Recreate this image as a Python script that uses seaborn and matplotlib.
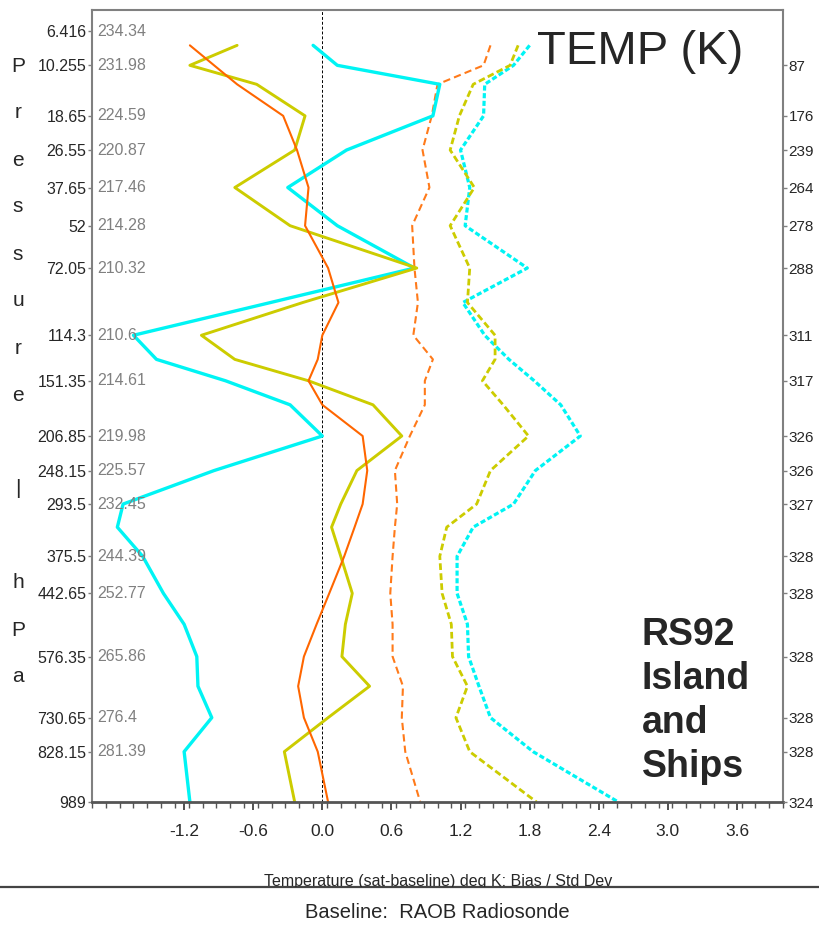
import numpy as np
import pandas as pd
import matplotlib
matplotlib.use("Agg")
import matplotlib.pyplot as plt
import seaborn as sns
from matplotlib.lines import Line2D
from matplotlib.ticker import NullLocator
from matplotlib.transforms import Bbox, TransformedBbox

# ---------------------------------------------------------------- data
# pressure levels (hPa) at which the profiles are given
levels = [7.84, 10.255, 13.0, 18.65, 26.55, 37.65, 52, 72.05, 92, 114.3, 133,
          151.35, 174, 206.85, 248.15, 293.5, 328, 375.5, 442.65, 505, 576.35,
          648, 730.65, 828.15, 989]

# bias (solid) and standard deviation (dashed), sat - baseline, K
cyan_bias = [-0.08, 0.13, 1.02, 0.96, 0.21, -0.30, 0.13, 0.80, -0.45, -1.64, -1.44,
             -0.84, -0.28, 0.00, -0.94, -1.73, -1.78, -1.56, -1.38, -1.20, -1.09,
             -1.08, -0.96, -1.20, -1.15]
yellow_bias = [-0.74, -1.15, -0.57, -0.15, -0.24, -0.76, -0.28, 0.82, -0.17, -1.05,
               -0.76, -0.12, 0.44, 0.69, 0.30, 0.16, 0.08, 0.16, 0.26, 0.20, 0.17,
               0.41, 0.05, -0.33, -0.24]
orange_bias = [-1.15, -0.94, -0.74, -0.34, -0.22, -0.12, -0.15, 0.05, 0.14, 0.00,
               -0.04, -0.12, 0.00, 0.35, 0.39, 0.35, 0.28, 0.19, 0.06, -0.05, -0.16,
               -0.21, -0.16, -0.04, 0.05]
orange_std = [1.46, 1.40, 1.00, 0.95, 0.87, 0.93, 0.78, 0.80, 0.83, 0.79, 0.96, 0.89,
              0.89, 0.76, 0.63, 0.65, 0.63, 0.61, 0.59, 0.61, 0.61, 0.70, 0.69, 0.72,
              0.85]
yellow_std = [1.70, 1.63, 1.31, 1.19, 1.11, 1.32, 1.11, 1.28, 1.26, 1.50, 1.50, 1.39,
              1.57, 1.79, 1.46, 1.34, 1.08, 1.02, 1.04, 1.12, 1.13, 1.26, 1.16, 1.28,
              1.86]
cyan_std = [1.80, 1.66, 1.41, 1.40, 1.20, 1.28, 1.24, 1.78, 1.22, 1.41, 1.62, 1.84,
            2.07, 2.24, 1.85, 1.66, 1.31, 1.17, 1.17, 1.26, 1.27, 1.36, 1.46, 1.83,
            2.57]

# labelled levels, mean temperature (K) and sample counts
tick_levels = [6.416, 10.255, 18.65, 26.55, 37.65, 52, 72.05, 114.3, 151.35, 206.85,
               248.15, 293.5, 375.5, 442.65, 576.35, 730.65, 828.15, 989]
mean_temps = [234.34, 231.98, 224.59, 220.87, 217.46, 214.28, 210.32, 210.6, 214.61,
              219.98, 225.57, 232.45, 244.39, 252.77, 265.86, 276.4, 281.39]
counts = [87, 176, 239, 264, 278, 288, 311, 317, 326, 326, 327, 328, 328, 328, 328,
          328, 324]
x_major = [-1.2, -0.6, 0.0, 0.6, 1.2, 1.8, 2.4, 3.0, 3.6]

title_text = "TEMP (K)"
source_lines = ["RS92", "Island", "and", "Ships"]
side_label = list("Pressure") + [" ", "|", " "] + list("hPa")
x_label = "Temperature (sat-baseline) deg K: Bias / Std Dev"
footer = "Baseline:  RAOB Radiosonde"

# ---------------------------------------------------------------- style
sns.set_style("ticks")
plt.rcParams["font.family"] = ["Liberation Sans", "DejaVu Sans"]

W, H = 819, 932
fig = plt.figure(figsize=(W / 100, H / 100), dpi=100)
ax = fig.add_axes([92 / W, 1 - 802 / H, 691 / W, 792 / H])

EXP = 0.29


def fwd(p):
    return np.power(np.clip(p, 1e-9, None), EXP)


def inv(t):
    return np.power(np.clip(t, 1e-12, None), 1 / EXP)


CYAN, YELLOW, ORANGE = "#00F4F4", "#CCCC00", "#FF6600"
series = [
    (cyan_std, CYAN, 2.3, (0, (1.6, 0.8))),
    (yellow_std, YELLOW, 2.0, (0, (2.4, 1.2))),
    (orange_std, "#FF7A1A", 1.5, (0, (3.5, 2.0))),
    (cyan_bias, CYAN, 2.4, "-"),
    (yellow_bias, YELLOW, 2.1, "-"),
    (orange_bias, ORANGE, 1.5, "-"),
]
for vals, col, lw, ls in series:
    df = pd.DataFrame({"value": vals, "pressure": levels})
    sns.lineplot(data=df, x="value", y="pressure", orient="y", sort=False,
                 estimator=None, color=col, linewidth=lw, linestyle=ls, ax=ax)

ax.axvline(0, color="black", lw=0.7, ls=(0, (3, 2)), zorder=1)

ax.set_yscale("function", functions=(fwd, inv))
ax.set_ylim(989, 4.6)
ax.set_xlim(-2, 4)
ax.set_xlabel("")
ax.set_ylabel("")

# x axis ticks
ax.set_xticks(x_major)
ax.set_xticklabels([f"{v:.1f}" for v in x_major])
ax.set_xticks(np.arange(-2, 4.001, 0.12), minor=True)
ax.tick_params(axis="x", which="major", direction="out", length=6, width=1.2,
               color="#333333", pad=10, labelsize=12.5)
ax.tick_params(axis="x", which="minor", direction="out", length=4, width=1.0,
               color="#555555")

# left axis: pressure labels
ax.set_yticks(tick_levels)
ax.set_yticklabels([f"{v:g}" for v in tick_levels])
ax.yaxis.set_minor_locator(NullLocator())
ax.tick_params(axis="y", which="major", direction="out", length=3, width=1,
               color="#808080", pad=1, labelsize=11.5)

# mean temperature next to each level
for p, t in zip(tick_levels, mean_temps):
    ax.text(-1.955, p, f"{t:g}", color="#808080", fontsize=11.5,
            ha="left", va="center")

for side in ["left", "top", "right"]:
    ax.spines[side].set_color("#808080")
    ax.spines[side].set_linewidth(1.5)
ax.spines["bottom"].set_color("#555555")
ax.spines["bottom"].set_linewidth(2)

# right axis: sample counts
ax2 = ax.twinx()
ax2.set_yscale("function", functions=(fwd, inv))
ax2.set_ylim(989, 4.6)
ax2.set_yticks(tick_levels[1:])
ax2.set_yticklabels([str(c) for c in counts])
ax2.yaxis.set_minor_locator(NullLocator())
ax2.tick_params(axis="y", direction="out", length=3, width=1, color="#808080",
                pad=1, labelsize=11)
for s in ax2.spines.values():
    s.set_visible(False)

# annotations
fig.text(537 / W, 1 - 64 / H, title_text, fontsize=34, ha="left", va="baseline")
for i, line in enumerate(source_lines):
    fig.text(642 / W, 1 - (645 + 44 * i) / H, line, fontsize=27, fontweight="bold",
             ha="left", va="baseline")
for i, ch in enumerate(side_label):
    fig.text(18 / W, 1 - (66 + 47 * i) / H, ch, fontsize=15, ha="center", va="center")

line_y = 1 - 887 / H
clip = TransformedBbox(Bbox([[0, line_y], [1, 1]]), fig.transFigure)
xl = fig.text(438 / W, 1 - 886 / H, x_label, fontsize=11.5, ha="center",
              va="baseline")
xl.set_clip_box(clip)
xl.set_clip_on(True)
fig.add_artist(Line2D([0, 1], [line_y, line_y], transform=fig.transFigure,
                      color="#444444", lw=1.6))
fig.text(437 / W, 1 - 913 / H, footer, fontsize=14.5, ha="center", va="center")

fig.savefig("out.png", dpi=100)
